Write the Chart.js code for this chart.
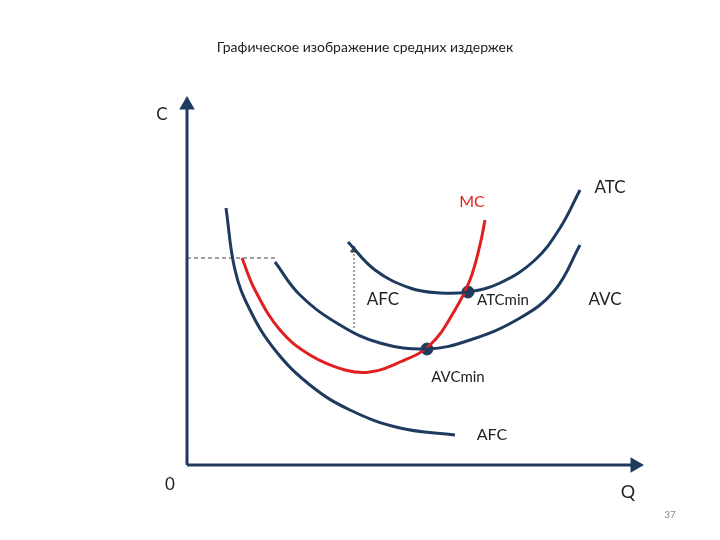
<!DOCTYPE html>
<html>
<head>
<meta charset="utf-8">
<script src="https://cdn.jsdelivr.net/npm/chart.js@4"></script>
<style>body{margin:0;background:#fff}</style>
</head>
<body>
<canvas id="c" width="720" height="540"></canvas>
<script>
// curves: x = quantity, y = cost (arbitrary units)
const afcPoints = [[39,257],[48,195],[63,155],[88,115],[123,80],[163,55],[213,37],[268,30]];
const mcPoints  = [[55,207],[68,175],[93,135],[123,110],[158,95],[183,93],[213,103],[243,120],[268,155],[283,185],[293,220],[298,245]];
const avcPoints = [[88,203],[113,170],[153,140],[193,122],[240,116],[283,125],[333,147],[368,175],[393,220]];
const atcPoints = [[161,223],[188,195],[223,177],[253,172],[281,173],[313,182],[348,205],[373,237],[393,275]];
const minPoints = [[281,173],[240,116]];
const priceGuide = [[0,207],[88,207]];
const afcGap = [[167,137],[167,215]];

const labels = [
  {text:'Графическое изображение средних издержек', x:178, y:418, size:14, color:'#222'},
  {text:'C', x:-25, y:350, size:17, color:'#222'},
  {text:'0', x:-17, y:-20, size:17, color:'#222'},
  {text:'Q', x:441, y:-27, size:18, color:'#222'},
  {text:'MC', x:285, y:263, size:16, color:'#e02020'},
  {text:'ATC', x:423, y:277, size:17, color:'#222'},
  {text:'AFC', x:196, y:165, size:17, color:'#222'},
  {text:'ATCmin', x:316, y:165, size:15, color:'#222'},
  {text:'AVC', x:418, y:165, size:17, color:'#222'},
  {text:'AVCmin', x:271, y:88, size:15, color:'#222'},
  {text:'AFC', x:305, y:30, size:16, color:'#222'},
  {text:'37', x:483, y:-50, size:10, color:'#888'}
];

const toXY = arr => arr.map(p => ({x:p[0], y:p[1]}));
const navy = '#1f3a5f', red = '#e02020';

function curve(pts, color) {
  return {data: toXY(pts), borderColor: color, borderWidth: 3, pointRadius: 0,
          tension: 0.4, showLine: true, fill: false};
}

const textPlugin = {
  id: 'texts',
  afterDatasetsDraw(chart) {
    const ctx = chart.ctx, sx = chart.scales.x, sy = chart.scales.y;
    ctx.save();
    ctx.textAlign = 'center';
    ctx.textBaseline = 'middle';
    labels.forEach(l => {
      ctx.font = l.size + 'px Lato, "Open Sans", sans-serif';
      ctx.fillStyle = l.color;
      ctx.fillText(l.text, sx.getPixelForValue(l.x), sy.getPixelForValue(l.y));
    });
    ctx.restore();
  }
};

new Chart(document.getElementById('c'), {
  type: 'scatter',
  data: {
    datasets: [
      // axes with arrow heads
      {data: toXY([[0,0],[0,360]]), borderColor: navy, backgroundColor: navy, borderWidth: 3, showLine: true,
       pointStyle: 'triangle', pointRadius: [0,6], rotation: 0},
      {data: toXY([[0,0],[448,0]]), borderColor: navy, backgroundColor: navy, borderWidth: 3, showLine: true,
       pointStyle: 'triangle', pointRadius: [0,6], rotation: 90},
      curve(afcPoints, navy),
      curve(avcPoints, navy),
      curve(atcPoints, navy),
      curve(mcPoints, red),
      {data: toXY(priceGuide), borderColor: '#444', borderWidth: 1, borderDash: [4,3], showLine: true, pointRadius: 0},
      {data: toXY(afcGap), borderColor: '#444', backgroundColor: '#444', borderWidth: 1, borderDash: [2,2], showLine: true,
       pointStyle: 'triangle', pointRadius: [0,4], rotation: 0},
      {data: toXY(minPoints), backgroundColor: navy, borderColor: navy, pointRadius: 6, showLine: false}
    ]
  },
  options: {
    responsive: false,
    animation: false,
    clip: false,
    layout: {padding: {left: 187, right: 85, top: 105, bottom: 75}},
    plugins: {legend: {display: false}, tooltip: {enabled: false}},
    scales: {
      x: {type: 'linear', min: 0, max: 448, display: false},
      y: {type: 'linear', min: 0, max: 360, display: false}
    }
  },
  plugins: [textPlugin]
});
</script>
</body>
</html>
